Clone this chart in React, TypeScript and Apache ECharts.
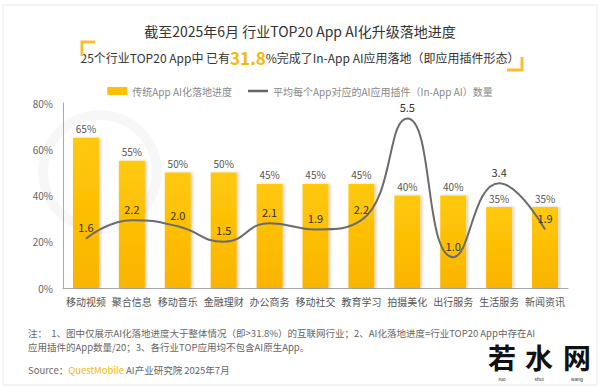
import React, { useEffect, useRef } from "react";
import * as echarts from "echarts";

const categories = ["移动视频", "聚合信息", "移动音乐", "金融理财", "办公商务", "移动社交", "教育学习", "拍摄美化", "出行服务", "生活服务", "新闻资讯"];
const progressValues = [65, 55, 50, 50, 45, 45, 45, 40, 40, 35, 35];
const pluginValues = [1.6, 2.2, 2.0, 1.5, 2.1, 1.9, 2.2, 5.5, 1.0, 3.4, 1.9];
const yTicks = [0, 20, 40, 60, 80];

const barName = "传统App AI化落地进度";
const lineName = "平均每个App对应的AI应用插件（In-App AI）数量";
const FONT = "'Noto Sans CJK SC', 'Noto Sans', sans-serif";

export default function App() {
  const ref = useRef<HTMLDivElement>(null);
  useEffect(() => {
    document.body.style.margin = "0";
    const chart = echarts.init(ref.current!, null, { renderer: "svg" });
    chart.setOption({
      animation: false,
      backgroundColor: "#ffffff",
      textStyle: { fontFamily: FONT },
      grid: { left: 63, right: 32, top: 103, bottom: 98 },
      legend: {
        top: 81,
        left: "center",
        itemWidth: 20,
        itemHeight: 8,
        itemGap: 16,
        textStyle: { fontSize: 10, color: "#888", fontFamily: FONT },
        data: [
          { name: barName, icon: "rect", itemStyle: { color: "#FFC107" } },
          { name: lineName, icon: "path://M0 0h16v2H0z", itemStyle: { color: "#666" } },
        ],
      },
      xAxis: {
        type: "category",
        data: categories,
        axisLine: { lineStyle: { color: "#aaa" } },
        axisTick: { show: false },
        axisLabel: { fontSize: 10, color: "#555", margin: 8, interval: 0 },
      },
      yAxis: [
        {
          type: "value",
          min: yTicks[0],
          max: yTicks[yTicks.length - 1],
          interval: 20,
          splitLine: { show: false },
          axisLine: { show: true, lineStyle: { color: "#aaa" } },
          axisTick: { show: false },
          axisLabel: { fontSize: 10, color: "#666", formatter: "{value}%", margin: 10 },
        },
        { type: "value", min: 0, max: 6, show: false, splitLine: { show: false } },
      ],
      series: [
        {
          name: barName,
          type: "bar",
          data: progressValues,
          barWidth: 26,
          z: 2,
          itemStyle: {
            color: new echarts.graphic.LinearGradient(0, 0, 0, 1, [
              { offset: 0, color: "#FFC90A" },
              { offset: 1, color: "#FAB400" },
            ]),
            shadowColor: "rgba(0,0,0,0.18)",
            shadowBlur: 3,
            shadowOffsetX: 2,
          },
          label: { show: true, position: "top", formatter: "{c}%", fontSize: 10, color: "#555", distance: 4 },
        },
        {
          name: lineName,
          type: "line",
          yAxisIndex: 1,
          data: pluginValues,
          smooth: true,
          symbol: "circle",
          symbolSize: 0.1,
          z: 3,
          lineStyle: { color: "#6b6b6b", width: 2 },
          itemStyle: { color: "#6b6b6b" },
          label: {
            show: true,
            position: "top",
            distance: 6,
            fontSize: 11,
            color: "#333",
            formatter: (p: any) => Number(p.value).toFixed(1),
          },
        },
      ],
      graphic: [
        { type: "rect", z: -10, shape: { x: 3, y: 5, width: 594, height: 380 }, style: { fill: "none", stroke: "#e8e8e8", lineWidth: 1 } },
        { type: "ring", z: -5, shape: { cx: 100, cy: 172, r: 62, r0: 52 }, style: { fill: "rgba(0,0,0,0.03)" } },
        {
          type: "text",
          style: { x: 300, y: 31, text: "截至2025年6月 行业TOP20 App AI化升级落地进度", fontSize: 14, fill: "#333", align: "center", verticalAlign: "middle", fontFamily: FONT },
        },
        {
          type: "text",
          style: {
            x: 300,
            y: 57,
            align: "center",
            verticalAlign: "middle",
            fontFamily: FONT,
            text: "{a|25个行业TOP20 App中 已有}{b|31.8}{a|%完成了In-App AI应用落地（即应用插件形态）}",
            rich: {
              a: { fontSize: 12, fill: "#333", fontFamily: FONT },
              b: { fontSize: 17, fontWeight: "bold", fill: "#F5B80A", fontFamily: FONT },
            },
          },
        },
        { type: "polyline", shape: { points: [[82, 56], [82, 42], [95, 42]] }, style: { stroke: "#F5C02A", lineWidth: 3, fill: "none" } },
        { type: "polyline", shape: { points: [[507, 70], [522, 70], [522, 57]] }, style: { stroke: "#F5C02A", lineWidth: 3, fill: "none" } },
        {
          type: "text",
          style: {
            x: 28,
            y: 333,
            text: "注：  1、图中仅展示AI化落地进度大于整体情况（即>31.8%）的互联网行业；2、AI化落地进度=行业TOP20 App中存在AI",
            fontSize: 9.5,
            fill: "#666",
            verticalAlign: "middle",
            fontFamily: FONT,
          },
        },
        {
          type: "text",
          style: { x: 28, y: 347, text: "应用插件的App数量/20；3、各行业TOP应用均不包含AI原生App。", fontSize: 9.5, fill: "#666", verticalAlign: "middle", fontFamily: FONT },
        },
        {
          type: "text",
          style: {
            x: 28,
            y: 370,
            verticalAlign: "middle",
            fontFamily: FONT,
            text: "{a|Source：}{b|QuestMobile}{a| AI产业研究院 2025年7月}",
            rich: {
              a: { fontSize: 9.5, fill: "#666", fontFamily: FONT },
              b: { fontSize: 9.5, fill: "#F5B80A", fontFamily: FONT },
            },
          },
        },
        { type: "text", style: { x: 502, y: 357, text: "若", fontSize: 28, fontWeight: "bold", fill: "#111", align: "center", verticalAlign: "middle", fontFamily: FONT } },
        { type: "text", style: { x: 539, y: 357, text: "水", fontSize: 28, fontWeight: "bold", fill: "#111", align: "center", verticalAlign: "middle", fontFamily: FONT } },
        { type: "text", style: { x: 577, y: 357, text: "网", fontSize: 28, fontWeight: "bold", fill: "#111", align: "center", verticalAlign: "middle", fontFamily: FONT } },
        { type: "text", style: { x: 502, y: 379, text: "ruo", fontSize: 5, fill: "#333", align: "center", verticalAlign: "middle" } },
        { type: "text", style: { x: 539, y: 379, text: "shui", fontSize: 5, fill: "#333", align: "center", verticalAlign: "middle" } },
        { type: "text", style: { x: 577, y: 379, text: "wang", fontSize: 5, fill: "#333", align: "center", verticalAlign: "middle" } },
      ],
    });
    return () => chart.dispose();
  }, []);
  return <div ref={ref} style={{ width: 600, height: 386 }} />;
}
